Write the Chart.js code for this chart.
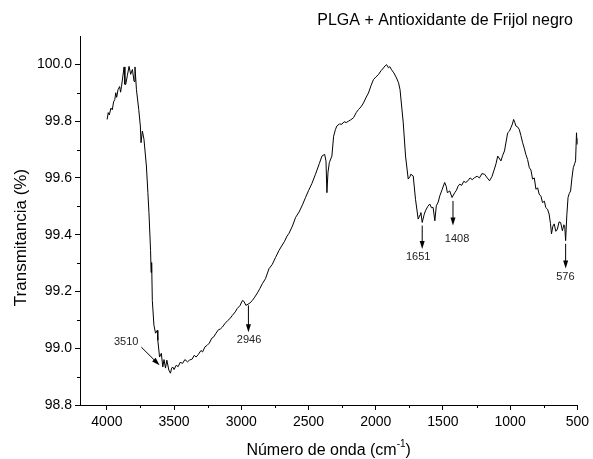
<!DOCTYPE html>
<html>
<head>
<meta charset="utf-8">
<title>PLGA + Antioxidante de Frijol negro</title>
<style>
  html, body { margin: 0; padding: 0; background: #fff; }
  .container { width: 593px; height: 459px; position: relative; }
</style>
</head>
<body>
<div class="container">
  <canvas id="chart"></canvas>
</div>
<script src="https://cdn.jsdelivr.net/npm/chart.js@4.4.1/dist/chart.umd.min.js"></script>
<script>
// spectrum (cm-1, %)
var waveNumbers = [
  3998, 3990, 3982, 3970, 3960, 3950, 3941, 3934, 3927, 3917,
  3905, 3898, 3891, 3872, 3866, 3860, 3848, 3835, 3823, 3810,
  3798, 3791, 3780, 3763, 3751, 3746, 3736, 3724, 3706, 3695,
  3687, 3675, 3671, 3667, 3662, 3650, 3638, 3625, 3621, 3608,
  3595, 3584, 3575, 3564, 3554, 3539, 3527, 3518, 3510, 3500,
  3484, 3470, 3455, 3436, 3420, 3400, 3386, 3365, 3350, 3336,
  3320, 3300, 3288, 3270, 3255, 3238, 3220, 3205, 3188, 3170,
  3155, 3140, 3120, 3100, 3085, 3066, 3045, 3030, 3010, 2992,
  2980, 2966, 2950, 2935, 2918, 2900, 2880, 2862, 2844, 2820,
  2794, 2770, 2745, 2720, 2700, 2680, 2660, 2646, 2620, 2596,
  2570, 2545, 2522, 2500, 2475, 2448, 2420, 2400, 2380, 2370,
  2363, 2355, 2345, 2326, 2313, 2300, 2289, 2270, 2252, 2235,
  2220, 2202, 2185, 2165, 2145, 2128, 2110, 2091, 2070, 2054,
  2035, 2017, 2000, 1980, 1960, 1943, 1930, 1919, 1905, 1895,
  1882, 1865, 1845, 1830, 1819, 1795, 1778, 1758, 1745, 1739,
  1721, 1704, 1684, 1670, 1664, 1654, 1640, 1630, 1612, 1598,
  1585, 1573, 1560, 1549, 1535, 1523, 1505, 1487, 1475, 1467,
  1449, 1432, 1412, 1400, 1388, 1375, 1360, 1345, 1330, 1314,
  1298, 1282, 1264, 1245, 1228, 1210, 1190, 1170, 1153, 1135,
  1117, 1105, 1092, 1068, 1055, 1042, 1018, 1005, 994, 983,
  974, 965, 957, 945, 932, 920, 907, 895, 883, 870,
  857, 845, 833, 820, 808, 795, 784, 770, 759, 745,
  735, 722, 710, 700, 692, 682, 672, 660, 648, 636,
  624, 611, 600, 594, 587, 578, 569, 560, 550, 540,
  530, 520, 513, 506, 502, 500];
var transmittance = [
  99.806, 99.830, 99.822, 99.846, 99.840, 99.868, 99.876, 99.900, 99.884, 99.911,
  99.922, 99.902, 99.923, 99.991, 99.930, 99.929, 99.960, 99.993, 99.965, 99.982,
  99.940, 99.991, 99.911, 99.841, 99.783, 99.724, 99.765, 99.736, 99.642, 99.548,
  99.478, 99.344, 99.267, 99.302, 99.168, 99.081, 99.053, 99.063, 99.028, 98.969,
  98.982, 98.934, 98.960, 98.930, 98.958, 98.923, 98.912, 98.930, 98.934, 98.925,
  98.940, 98.935, 98.950, 98.947, 98.960, 98.952, 98.958, 98.962, 98.975, 98.969,
  98.978, 98.992, 98.987, 99.005, 99.010, 99.018, 99.035, 99.040, 99.053, 99.065,
  99.068, 99.075, 99.088, 99.098, 99.104, 99.116, 99.128, 99.140, 99.150, 99.168,
  99.165, 99.151, 99.155, 99.160, 99.168, 99.180, 99.195, 99.210, 99.227, 99.245,
  99.280, 99.295, 99.320, 99.344, 99.360, 99.375, 99.395, 99.404, 99.430, 99.461,
  99.480, 99.505, 99.531, 99.555, 99.580, 99.613, 99.650, 99.677, 99.683, 99.660,
  99.548, 99.620, 99.654, 99.677, 99.747, 99.770, 99.783, 99.790, 99.789, 99.798,
  99.795, 99.800, 99.805, 99.812, 99.830, 99.841, 99.850, 99.864, 99.885, 99.899,
  99.925, 99.946, 99.955, 99.964, 99.978, 99.987, 99.995, 99.999, 99.988, 99.992,
  99.981, 99.970, 99.952, 99.935, 99.911, 99.794, 99.677, 99.596, 99.605, 99.613,
  99.607, 99.525, 99.455, 99.470, 99.478, 99.443, 99.470, 99.484, 99.500, 99.508,
  99.495, 99.496, 99.449, 99.502, 99.515, 99.537, 99.560, 99.584, 99.570, 99.548,
  99.554, 99.531, 99.548, 99.556, 99.570, 99.578, 99.574, 99.588, 99.584, 99.590,
  99.600, 99.594, 99.601, 99.606, 99.600, 99.615, 99.613, 99.600, 99.590, 99.605,
  99.631, 99.650, 99.677, 99.660, 99.680, 99.695, 99.759, 99.765, 99.777, 99.790,
  99.806, 99.795, 99.783, 99.780, 99.771, 99.750, 99.724, 99.705, 99.683, 99.665,
  99.636, 99.628, 99.596, 99.600, 99.560, 99.565, 99.543, 99.535, 99.513, 99.518,
  99.496, 99.490, 99.473, 99.440, 99.403, 99.430, 99.438, 99.412, 99.420, 99.445,
  99.443, 99.414, 99.435, 99.432, 99.379, 99.470, 99.531, 99.545, 99.554, 99.600,
  99.636, 99.650, 99.660, 99.759, 99.740, 99.718];

var xTickVals = [4000, 3500, 3000, 2500, 2000, 1500, 1000, 500];
var yTickVals = [98.8, 99.0, 99.2, 99.4, 99.6, 99.8, 100.0];

// peak labels: text, arrow start/end and text position in data units
var peakLabels = ['3510', '2946', '1651', '1408', '576'];
var arrowFrom = [[3744, 99.004], [2947, 99.151], [1654, 99.432], [1425, 99.519], [587, 99.368]];
var arrowTo = [[3608, 98.940], [2947, 99.056], [1654, 99.350], [1425, 99.432], [587, 99.281]];
var labelAt = [[3856, 99.021], [2942, 99.028], [1684, 99.320], [1395, 99.386], [589, 99.250]];

var points = waveNumbers.map(function(w, i) { return { x: w, y: transmittance[i] }; });
var FONT = '"Liberation Sans", Arial, sans-serif';

var extras = {
  id: 'extras',
  afterDraw: function(chart) {
    var ctx = chart.ctx;
    var xs = chart.scales.x, ys = chart.scales.y;
    var area = chart.chartArea;
    ctx.save();
    ctx.strokeStyle = '#000';
    ctx.fillStyle = '#000';
    ctx.lineWidth = 1;

    // minor ticks
    ctx.beginPath();
    for (var v = 750; v <= 4000; v += 500) {
      var px = Math.round(xs.getPixelForValue(v)) + 0.5;
      ctx.moveTo(px, area.bottom); ctx.lineTo(px, area.bottom + 3);
    }
    for (var k = 0; k < 6; k++) {
      var py = Math.round(ys.getPixelForValue(98.9 + k * 0.2)) + 0.5;
      ctx.moveTo(area.left, py); ctx.lineTo(area.left - 3, py);
    }
    ctx.stroke();

    // arrows + labels
    ctx.font = '11px ' + FONT;
    ctx.textAlign = 'center';
    ctx.textBaseline = 'middle';
    for (var i = 0; i < peakLabels.length; i++) {
      var x1 = xs.getPixelForValue(arrowFrom[i][0]), y1 = ys.getPixelForValue(arrowFrom[i][1]);
      var x2 = xs.getPixelForValue(arrowTo[i][0]), y2 = ys.getPixelForValue(arrowTo[i][1]);
      var ang = Math.atan2(y2 - y1, x2 - x1);
      ctx.beginPath();
      ctx.moveTo(x1, y1);
      ctx.lineTo(x2 - 6 * Math.cos(ang), y2 - 6 * Math.sin(ang));
      ctx.stroke();
      ctx.beginPath();
      ctx.moveTo(x2, y2);
      ctx.lineTo(x2 - 8 * Math.cos(ang) + 2.5 * Math.sin(ang), y2 - 8 * Math.sin(ang) - 2.5 * Math.cos(ang));
      ctx.lineTo(x2 - 8 * Math.cos(ang) - 2.5 * Math.sin(ang), y2 - 8 * Math.sin(ang) + 2.5 * Math.cos(ang));
      ctx.closePath();
      ctx.fill();
      ctx.fillStyle = '#222';
      ctx.fillText(peakLabels[i], xs.getPixelForValue(labelAt[i][0]), ys.getPixelForValue(labelAt[i][1]));
      ctx.fillStyle = '#000';
    }

    // title
    ctx.font = '16px ' + FONT;
    ctx.textAlign = 'right';
    ctx.textBaseline = 'alphabetic';
    ctx.fillText('PLGA + Antioxidante de Frijol negro', 573, 25);

    // x axis title with superscript
    var base = 'Número de onda (cm';
    var sup = '-1';
    ctx.font = '16px ' + FONT;
    var wBase = ctx.measureText(base).width;
    var wParen = ctx.measureText(')').width;
    ctx.font = '10px ' + FONT;
    var wSup = ctx.measureText(sup).width;
    var total = wBase + wSup + wParen;
    var sx = (area.left + area.right) / 2 - total / 2;
    ctx.textAlign = 'left';
    ctx.font = '16px ' + FONT;
    ctx.fillText(base, sx, 455);
    ctx.font = '10px ' + FONT;
    ctx.fillText(sup, sx + wBase, 447);
    ctx.font = '16px ' + FONT;
    ctx.fillText(')', sx + wBase + wSup, 455);

    // y axis title
    ctx.translate(21, (area.top + area.bottom) / 2 + 17);
    ctx.rotate(-Math.PI / 2);
    ctx.font = '17px ' + FONT;
    ctx.textAlign = 'center';
    ctx.textBaseline = 'middle';
    ctx.fillText('Transmitancia (%)', 0, 0);
    ctx.restore();
  }
};

new Chart('chart', {
  type: 'line',
  data: {
    datasets: [{
      data: points,
      borderColor: '#000',
      borderWidth: 1,
      pointRadius: 0,
      tension: 0,
      fill: false
    }]
  },
  options: {
    responsive: true,
    maintainAspectRatio: false,
    animation: false,
    layout: { padding: { top: 36, right: 13, left: 0, bottom: 0 } },
    plugins: { legend: { display: false }, tooltip: { enabled: false } },
    scales: {
      x: {
        type: 'linear',
        reverse: true,
        min: 500,
        max: 4200,
        afterFit: function(s) { s.height = 54; },
        afterBuildTicks: function(s) { s.ticks = xTickVals.map(function(v) { return { value: v }; }); },
        border: { display: true, color: '#000', width: 1 },
        grid: { display: true, drawOnChartArea: false, drawTicks: true, tickLength: 5, color: '#000' },
        ticks: { color: '#000', font: { family: FONT, size: 14 }, padding: 4, maxRotation: 0,
          callback: function(v) { return String(v); } }
      },
      y: {
        type: 'linear',
        min: 98.8,
        max: 100.1,
        afterFit: function(s) { s.width = 80; },
        afterBuildTicks: function(s) { s.ticks = yTickVals.map(function(v) { return { value: v }; }); },
        border: { display: true, color: '#000', width: 1 },
        grid: { display: true, drawOnChartArea: false, drawTicks: true, tickLength: 5, color: '#000' },
        ticks: { color: '#000', font: { family: FONT, size: 14 }, padding: 3,
          callback: function(v) { return Number(v).toFixed(1); } }
      }
    }
  },
  plugins: [extras]
});
</script>
</body>
</html>
